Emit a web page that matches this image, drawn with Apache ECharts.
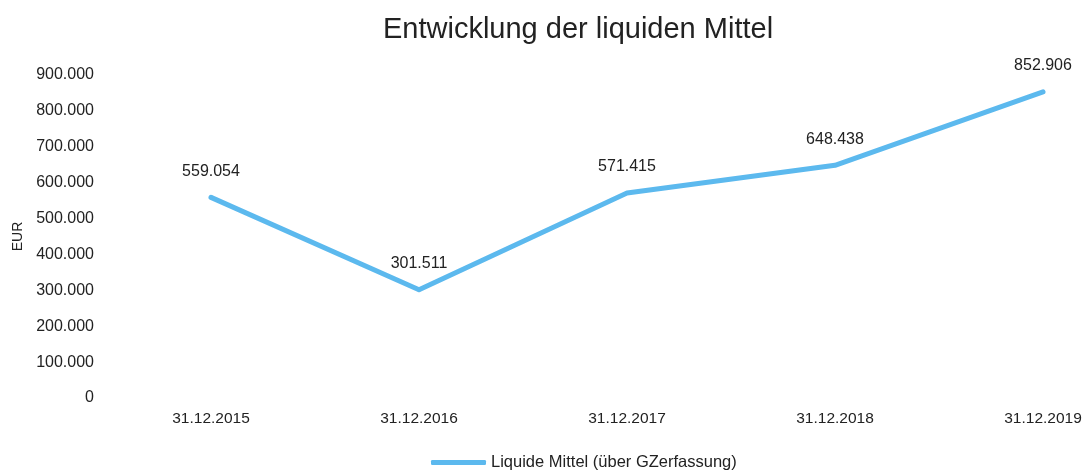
<!DOCTYPE html>
<html>
<head>
<meta charset="utf-8">
<script src="https://cdn.jsdelivr.net/npm/echarts@6/dist/echarts.min.js"></script>
<style>
  html, body { margin: 0; padding: 0; background: #fff; }
  #chart { width: 1085px; height: 470px; }
</style>
</head>
<body>
<div id="chart"></div>
<script>
// Daten
var categories = ['31.12.2015', '31.12.2016', '31.12.2017', '31.12.2018', '31.12.2019'];
var liquideMittel = [559054, 301511, 571415, 648438, 852906];
var yTicks = [0, 100000, 200000, 300000, 400000, 500000, 600000, 700000, 800000, 900000];

function fmt(v) {
    // Tausenderpunkt wie im Original
    return String(v).replace(/\B(?=(\d{3})+(?!\d))/g, '.');
}

var myChart = echarts.init(document.getElementById('chart'));
myChart.setOption({
    backgroundColor: '#fff',
    textStyle: { fontFamily: 'Liberation Sans, Arial, sans-serif' },
    title: {
        text: 'Entwicklung der liquiden Mittel',
        left: 378,
        top: 10,
        textStyle: { fontSize: 29, fontWeight: 'normal', color: '#222' }
    },
    legend: {
        left: 426,
        top: 449,
        itemWidth: 55,
        itemHeight: 5,
        itemGap: 0,
        textStyle: { fontSize: 16.5, color: '#222' },
        data: [{ name: 'Liquide Mittel (über GZerfassung)', icon: 'roundRect' }]
    },
    grid: { left: 211, right: 42, top: 75, bottom: 72 },
    xAxis: {
        type: 'category',
        boundaryGap: false,
        data: categories,
        axisLine: { show: false },
        axisTick: { show: false },
        axisLabel: { color: '#222', fontSize: 15.5, margin: 13 }
    },
    yAxis: {
        type: 'value',
        min: yTicks[0],
        max: yTicks[yTicks.length - 1],
        interval: yTicks[1] - yTicks[0],
        name: 'EUR',
        nameLocation: 'middle',
        nameGap: 181,
        nameTextStyle: { fontSize: 14, color: '#222' },
        splitLine: { show: false },
        axisLine: { show: false },
        axisTick: { show: false },
        axisLabel: {
            color: '#222',
            fontSize: 16,
            margin: 117,
            formatter: function (v) { return fmt(v); }
        }
    },
    series: [{
        name: 'Liquide Mittel (über GZerfassung)',
        type: 'line',
        data: liquideMittel,
        symbol: 'circle',
        symbolSize: 4,
        showSymbol: true,
        lineStyle: { color: '#5cb9ee', width: 5, cap: 'round', join: 'round' },
        itemStyle: { color: '#5cb9ee' },
        label: {
            show: true,
            position: 'top',
            distance: 16,
            color: '#222',
            fontSize: 16,
            formatter: function (p) { return fmt(p.value); }
        }
    }]
});
</script>
</body>
</html>
